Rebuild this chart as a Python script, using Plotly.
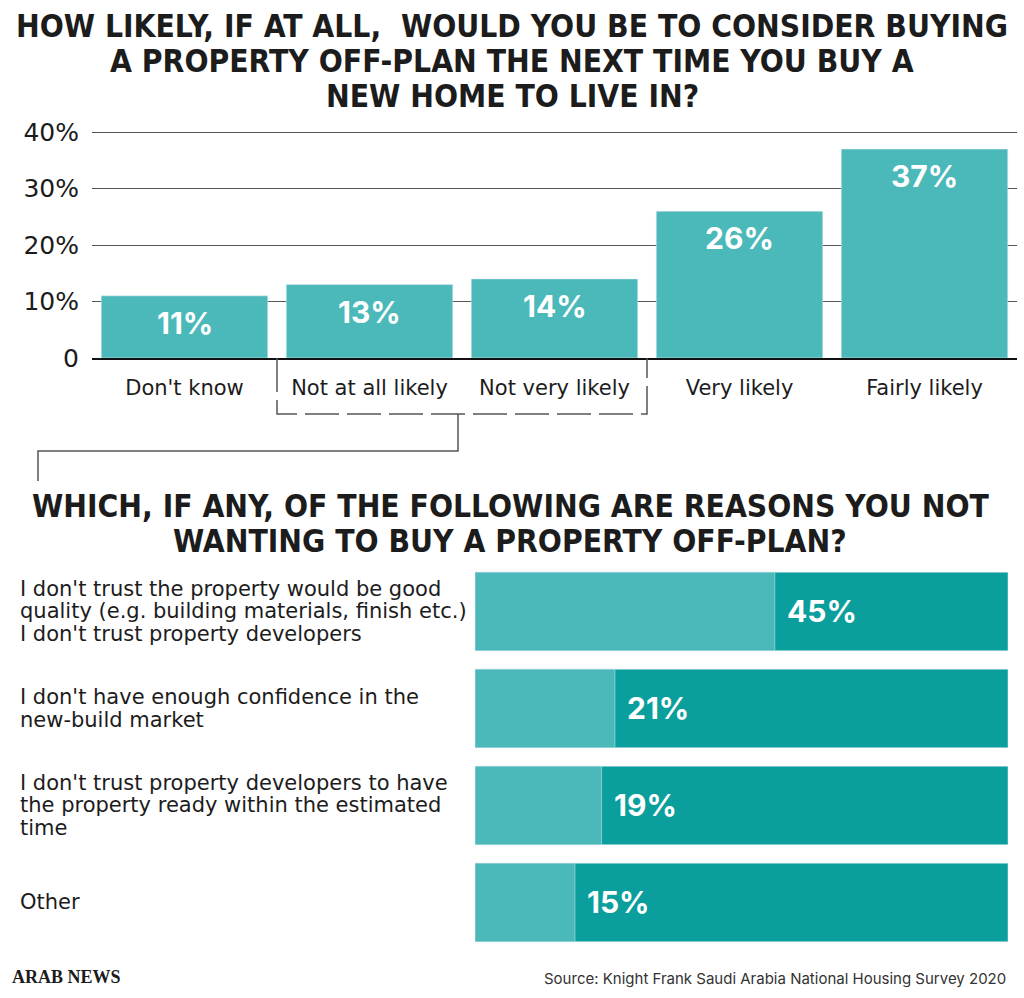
import plotly.graph_objects as go

# Top chart: likelihood of buying off-plan
likely_cats = ["Don't know", "Not at all likely", "Not very likely", "Very likely", "Fairly likely"]
likely_vals = [11, 13, 14, 26, 37]
likely_ticks = [0, 10, 20, 30, 40]
likely_ticktext = ["0", "10%", "20%", "30%", "40%"]

# Bottom chart: reasons for not buying off-plan
reason_labels = [
    ["I don't trust the property would be good",
     "quality (e.g. building materials, finish etc.)",
     "I don't trust property developers"],
    ["I don't have enough confidence in the", "new-build market"],
    ["I don't trust property developers to have",
     "the property ready within the estimated", "time"],
    ["Other"],
]
reason_keys = ["r1", "r2", "r3", "r4"]
reason_vals = [45, 21, 19, 15]
reason_scale = [80, 80, 80, 80]

LIGHT = "#4bb9b9"
DARK = "#0a9e9c"
INK = "#1c1c1c"
BODY = "DejaVu Sans, sans-serif"
NUM = "Inter, Roboto, sans-serif"
HEAD = "DejaVu Sans Condensed, DejaVu Sans, sans-serif"

W, H = 1024, 998
# the photographed page comes out slightly squeezed vertically, so layout
# positions (given in target-picture pixels) are mapped through that squeeze
SQ, OFF = 0.972, 12
def px(x):
    return x / W
def py(y):
    return 1 - (y - OFF) / SQ / H

fig = go.Figure()

fig.add_trace(go.Bar(
    x=likely_cats, y=likely_vals, marker_color=LIGHT, width=0.9,
    xaxis="x", yaxis="y", hoverinfo="skip"))

fig.add_trace(go.Bar(
    y=reason_keys, x=reason_scale, orientation="h", marker_color=DARK, width=0.81,
    xaxis="x2", yaxis="y2", hoverinfo="skip"))
fig.add_trace(go.Bar(
    y=reason_keys, x=reason_vals, orientation="h", marker_color=LIGHT, width=0.81,
    xaxis="x2", yaxis="y2", hoverinfo="skip"))

ann = []

# titles (one annotation per line so the line spacing can be kept tight)
head_font = dict(family=HEAD, size=31.5, color=INK, weight="bold")
title1 = ["HOW LIKELY, IF AT ALL,\u00a0 WOULD YOU BE TO CONSIDER BUYING",
          "A PROPERTY OFF-PLAN THE NEXT TIME YOU BUY A",
          "NEW HOME TO LIVE IN?"]
for i, t in enumerate(title1):
    ann.append(dict(text=t, x=0.5, y=py(25 + 35 * i), xref="paper", yref="paper",
                    showarrow=False, xanchor="center", yanchor="middle", font=head_font))
title2 = ["WHICH, IF ANY, OF THE FOLLOWING ARE REASONS YOU NOT",
          "WANTING TO BUY A PROPERTY OFF-PLAN?"]
for i, t in enumerate(title2):
    ann.append(dict(text=t, x=px(510), y=py(505 + 35 * i), xref="paper", yref="paper",
                    showarrow=False, xanchor="center", yanchor="middle", font=head_font))

# value labels in the top bars
for c, v in zip(likely_cats, likely_vals):
    ann.append(dict(text=f"{v}%", x=c, y=v, xref="x", yref="y", showarrow=False,
                    yanchor="top", yshift=-7,
                    font=dict(family=NUM, size=30, color="white", weight="bold")))

# reason labels and values
LINE = 22.5
for k, lines, v in zip(reason_keys, reason_labels, reason_vals):
    n = len(lines)
    for j, t in enumerate(lines):
        ann.append(dict(text=t, x=px(18), y=k, xref="paper", yref="y2", showarrow=False,
                        xanchor="left", yanchor="middle",
                        yshift=((n - 1) / 2 - j) * LINE,
                        font=dict(family=BODY, size=21, color=INK)))
    ann.append(dict(text=f"{v}%", x=v, y=k, xref="x2", yref="y2", showarrow=False,
                    xanchor="left", yanchor="middle", xshift=10,
                    font=dict(family=NUM, size=30, color="white", weight="bold")))

# footer
ann.append(dict(text="ARAB NEWS", x=px(10), y=py(976), xref="paper", yref="paper",
                showarrow=False, xanchor="left", yanchor="middle",
                font=dict(family="Liberation Serif, serif", size=18, color=INK, weight="bold")))
ann.append(dict(text="Source: Knight Frank Saudi Arabia National Housing Survey 2020",
                x=px(1008), y=py(978), xref="paper", yref="paper",
                showarrow=False, xanchor="right", yanchor="middle",
                font=dict(family=NUM, size=15, color="#333333")))

shapes = [
    # dashed bracket under the "not likely" answers
    dict(type="path", xref="x", yref="paper",
         path=f"M 0.5,{py(357)} L 0.5,{py(413)} L 2.5,{py(413)} L 2.5,{py(357)}",
         line=dict(color="#555555", width=1.5, dash="34px,8px")),
    # connector down to the second question
    dict(type="path", xref="paper", yref="paper",
         path=(f"M {px(458)},{py(413)} L {px(458)},{py(450)} "
               f"L {px(38)},{py(450)} L {px(38)},{py(480)}"),
         line=dict(color="#555555", width=1.5)),
]

fig.update_layout(
    width=W, height=H,
    margin=dict(l=0, r=0, t=0, b=0),
    paper_bgcolor="white", plot_bgcolor="white",
    showlegend=False, barmode="overlay",
    annotations=ann, shapes=shapes,
    xaxis=dict(domain=[px(92), px(1017)], range=[-0.5, 4.5], type="category",
               showgrid=False, showline=True, linecolor="#111111", linewidth=2,
               ticks="", ticklabelstandoff=10, fixedrange=True,
               tickfont=dict(family=BODY, size=21, color=INK)),
    yaxis=dict(domain=[py(357), py(130)], range=[0, 40.2], tickvals=likely_ticks,
               ticktext=likely_ticktext, showgrid=True, gridcolor="#555555", gridwidth=1.3,
               zeroline=False, ticks="", ticklabelstandoff=12, fixedrange=True,
               tickfont=dict(family=BODY, size=25, color=INK)),
    xaxis2=dict(domain=[px(475), px(1008)], range=[0, 80], anchor="y2",
                visible=False, fixedrange=True),
    yaxis2=dict(domain=[py(950), py(562)], anchor="x2", type="category",
                categoryorder="array", categoryarray=reason_keys, autorange="reversed",
                visible=False, fixedrange=True),
)

# pin the figure to the page's top-left corner so the page is exactly the figure
pin = ("document.body.style.margin='0';"
       "var d=document.getElementById('{plot_id}');"
       "d.style.position='fixed';d.style.top='0';d.style.left='0';")
fig.write_html("out.html", config={"displayModeBar": False}, post_script=pin)
